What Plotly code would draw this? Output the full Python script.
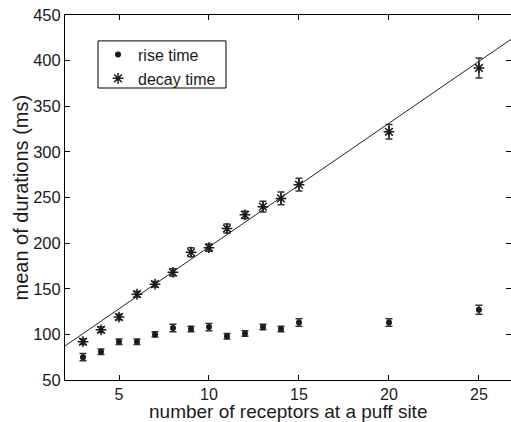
import plotly.graph_objects as go

# ---- data ----
receptors = [3, 4, 5, 6, 7, 8, 9, 10, 11, 12, 13, 14, 15, 20, 25]
rise_time = [75, 81, 92, 92, 100, 107, 106, 108, 98, 101, 108, 106, 113, 113, 127]
rise_err = [4, 3, 3, 3, 3, 4, 3, 4, 3, 3, 3, 3, 4, 4, 5]
decay_time = [92, 105, 119, 144, 155, 168, 190, 195, 216, 231, 240, 249, 264, 322, 392]
decay_err = [3, 3, 3, 3, 3, 4, 5, 4, 5, 4, 6, 7, 7, 8, 11]
fit_slope = 13.56
fit_intercept = 60.2
x_ticks = [5, 10, 15, 20, 25]
y_ticks = [50, 100, 150, 200, 250, 300, 350, 400, 450]

X_RANGE = [2, 26.78]
Y_RANGE = [50, 450]
FONT = "Liberation Sans, Arial, sans-serif"
INK = "#1a1a1a"

fit_x = X_RANGE
fit_y = [fit_slope * x + fit_intercept for x in fit_x]

fig = go.Figure()

fig.add_trace(go.Scatter(
    x=fit_x, y=fit_y, mode="lines",
    line=dict(color="#222222", width=1),
    showlegend=False, hoverinfo="skip",
))

fig.add_trace(go.Scatter(
    x=receptors, y=rise_time, mode="markers", name="rise time",
    marker=dict(symbol="circle", size=6, color="#1a1a1a"),
    error_y=dict(type="data", array=rise_err, color="#333333", thickness=1.5, width=3.5),
))

fig.add_trace(go.Scatter(
    x=receptors, y=decay_time, mode="markers", name="decay time",
    marker=dict(symbol="asterisk-open", size=9, color="#1a1a1a",
                line=dict(color="#1a1a1a", width=1.5)),
    error_y=dict(type="data", array=decay_err, color="#333333", thickness=1.5, width=3.5),
))

# invisible trace on the right axis to carry the mirrored ticks
fig.add_trace(go.Scatter(x=[None], y=[None], yaxis="y2", showlegend=False, hoverinfo="skip"))

fig.update_layout(
    width=511, height=422,
    margin=dict(l=65, r=0, t=15, b=42),
    paper_bgcolor="white", plot_bgcolor="white",
    font=dict(family=FONT, color=INK, size=16),
    showlegend=True,
    legend=dict(
        x=0.074, y=0.938, xanchor="left", yanchor="top",
        bgcolor="rgba(0,0,0,0)", borderwidth=0,
        font=dict(family=FONT, size=16, color=INK),
        tracegroupgap=0,
    ),
    xaxis=dict(
        range=X_RANGE, tickvals=x_ticks, ticks="inside", ticklen=5,
        tickcolor="black", showline=True, linecolor="black", linewidth=1,
        mirror="ticks", showgrid=False, zeroline=False,
        tickfont=dict(family=FONT, size=16, color=INK),
    ),
    yaxis=dict(
        range=Y_RANGE, tickvals=y_ticks, ticks="inside", ticklen=5,
        tickcolor="black", showline=True, linecolor="black", linewidth=1,
        mirror=False, showgrid=False, zeroline=False,
        tickfont=dict(family=FONT, size=16.5, color=INK),
    ),
    yaxis2=dict(
        range=Y_RANGE, tickvals=y_ticks, ticks="inside", ticklen=5,
        tickcolor="black", showline=False, showticklabels=False,
        overlaying="y", side="right", showgrid=False, zeroline=False,
    ),
    shapes=[
        dict(type="rect", xref="paper", yref="paper",
             x0=0.074, x1=0.361, y0=0.80, y1=0.929,
             line=dict(color="black", width=1), fillcolor="rgba(0,0,0,0)",
             layer="above"),
    ],
    annotations=[
        dict(text="number of receptors at a puff site", xref="paper", yref="paper",
             x=0.5, y=0, yanchor="middle", yshift=-31.5, showarrow=False,
             font=dict(family=FONT, size=19, color=INK)),
        dict(text="mean of durations (ms)", xref="paper", yref="paper",
             x=0, xanchor="center", xshift=-45, y=0.5, yanchor="middle",
             textangle=-90, showarrow=False,
             font=dict(family=FONT, size=20, color=INK)),
    ],
)

fig.write_html("out.html")
